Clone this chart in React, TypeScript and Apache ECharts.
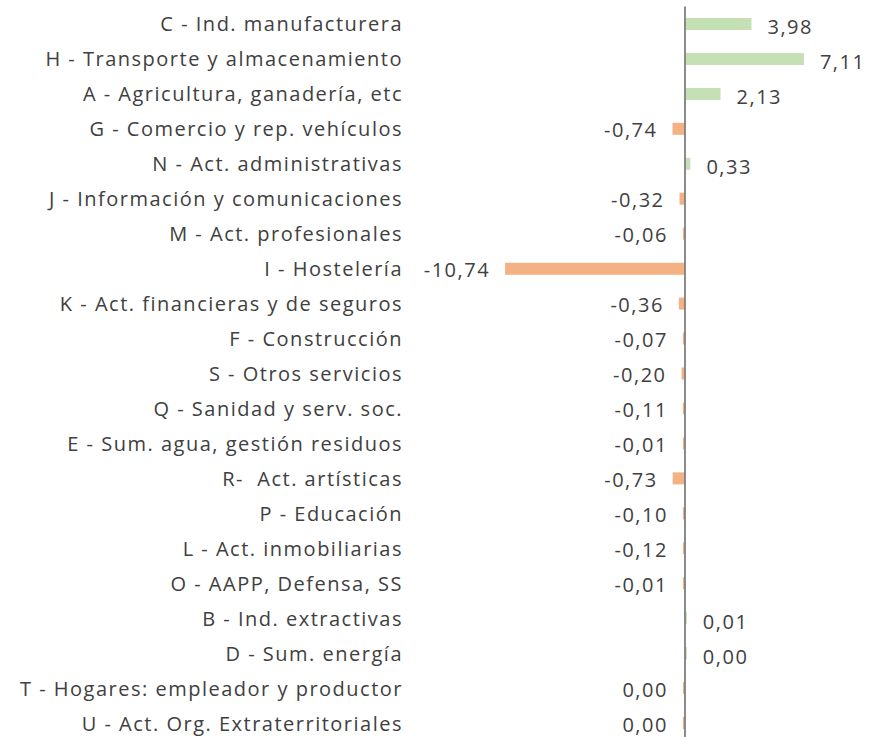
import React, { useEffect, useRef } from "react";
import * as echarts from "echarts";

const categories = [
  "C - Ind. manufacturera",
  "H - Transporte y almacenamiento",
  "A - Agricultura, ganadería, etc",
  "G - Comercio y rep. vehículos",
  "N - Act. administrativas",
  "J - Información y comunicaciones",
  "M - Act. profesionales",
  "I - Hostelería",
  "K - Act. financieras y de seguros",
  "F - Construcción",
  "S - Otros servicios",
  "Q - Sanidad y serv. soc.",
  "E - Sum. agua, gestión residuos",
  "R-  Act. artísticas",
  "P - Educación",
  "L - Act. inmobiliarias",
  "O - AAPP, Defensa, SS",
  "B - Ind. extractivas",
  "D - Sum. energía",
  "T - Hogares: empleador y productor",
  "U - Act. Org. Extraterritoriales",
];

const values = [
  3.98, 7.11, 2.13, -0.74, 0.33, -0.32, -0.06, -10.74, -0.36, -0.07, -0.2,
  -0.11, -0.01, -0.73, -0.1, -0.12, -0.01, 0.01, 0.004, -0.004, -0.004,
];

const GREEN = "#C5E0B4";
const ORANGE = "#F4B183";
const TEXT = "#404040";
const FONT = "Open Sans";

const fmt = (v: number) => {
  let s = v.toFixed(2);
  if (s === "-0.00") s = "0.00";
  return s.replace(".", ",");
};

export default function App() {
  const ref = useRef<HTMLDivElement>(null);
  useEffect(() => {
    if (!ref.current) return;
    const chart = echarts.init(ref.current, undefined, { renderer: "svg" });
    chart.setOption({
      animation: false,
      grid: { left: 484, right: 2, top: 6.5, bottom: 4.5 },
      xAxis: {
        type: "value",
        min: -12,
        max: 11,
        show: false,
      },
      yAxis: {
        type: "category",
        data: categories,
        inverse: true,
        axisLine: { show: false },
        axisTick: { show: false },
        axisLabel: {
          margin: 81,
          color: TEXT,
          fontFamily: FONT,
          fontSize: 20,
        },
      },
      series: [
        {
          type: "bar",
          barWidth: 12,
          barMinHeight: 2,
          data: values.map((v) => ({
            value: v,
            itemStyle: { color: v >= 0 ? GREEN : ORANGE },
            label: {
              show: true,
              position: v >= 0 ? "right" : "left",
              distance: v >= 0 ? 16 : 15,
              offset: v >= 0 ? [0, 3] : [0, 1],
              formatter: () => fmt(v),
              color: TEXT,
              fontFamily: FONT,
              fontSize: 20,
            },
          })),
          markLine: {
            silent: true,
            symbol: "none",
            label: { show: false },
            lineStyle: { color: "#7F7F7F", width: 1.8, type: "solid" },
            data: [{ xAxis: 0 }],
          },
        },
      ],
    });
    return () => chart.dispose();
  }, []);
  return (
    <>
      <style>{`#root svg text { letter-spacing: 1.5px; }`}</style>
      <div
        ref={ref}
        style={{ position: "absolute", left: 0, top: 0, width: 871, height: 745 }}
      />
    </>
  );
}
